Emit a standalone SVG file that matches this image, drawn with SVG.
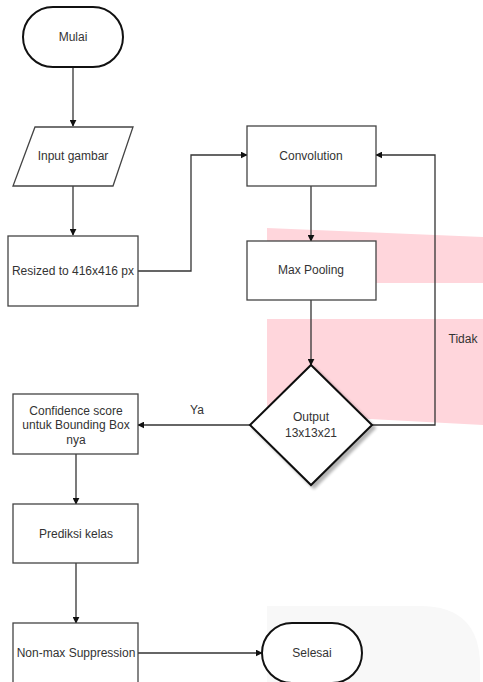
<svg xmlns="http://www.w3.org/2000/svg" width="483" height="682" viewBox="0 0 483 682">
<style>
.box{fill:#fff;stroke:#444;stroke-width:1.3}
.term{fill:#fff;stroke:#111;stroke-width:2}
.t{font-family:"Liberation Sans",Arial,sans-serif;font-size:12px;fill:#333;text-anchor:middle;dominant-baseline:central}
.c{fill:none;stroke:#333;stroke-width:1.3}
</style>
<defs>
<marker id="ah" viewBox="0 0 10 10" refX="9" refY="5" markerWidth="7" markerHeight="7" orient="auto" markerUnits="userSpaceOnUse">
<path d="M0,0 L10,5 L0,10 Z" fill="#111"/>
</marker>
<filter id="sh" x="-20%" y="-20%" width="150%" height="150%">
<feGaussianBlur in="SourceAlpha" stdDeviation="1.5"/>
<feOffset dx="3" dy="3"/>
<feComponentTransfer><feFuncA type="linear" slope="0.3"/></feComponentTransfer>
<feMerge><feMergeNode/><feMergeNode in="SourceGraphic"/></feMerge>
</filter>
</defs>
<rect width="483" height="682" fill="#fff"/>
<g id="background">
<path d="M267,228 L483,237 L483,283 L267,283 Z" fill="#ffd6dc"/>
<path d="M267,319 L483,319 L483,425 L370,419 L267,413 Z" fill="#ffd6dc"/>
<path d="M267,606 L420,606 Q480,606 480,666 L480,682 L267,682 Z" fill="#f8f8f8"/>
</g>
<g id="connectors">
<path class="c" d="M73,67 L73,126" marker-end="url(#ah)"/>
<path class="c" d="M73,186 L73,235" marker-end="url(#ah)"/>
<path class="c" d="M138,271 L191,271 L191,155 L247,155" marker-end="url(#ah)"/>
<path class="c" d="M311,186 L311,241" marker-end="url(#ah)"/>
<path class="c" d="M311,300 L311,365" marker-end="url(#ah)"/>
<path class="c" d="M372,425 L435,425 L435,155 L376,155" marker-end="url(#ah)"/>
<path class="c" d="M250,425 L138,425" marker-end="url(#ah)"/>
<path class="c" d="M76,454 L76,504" marker-end="url(#ah)"/>
<path class="c" d="M76,563 L76,623" marker-end="url(#ah)"/>
<path class="c" d="M138,653 L262,653" marker-end="url(#ah)"/>
<text class="t" x="197" y="410">Ya</text>
<text class="t" x="463" y="339">Tidak</text>
</g>
<g id="mulai">
<rect class="term" x="23" y="7" width="100" height="60" rx="30" ry="30"/>
<text class="t" x="73" y="37">Mulai</text>
</g>
<g id="input">
<path class="box" d="M35,127 L133,127 L113,186 L13,186 Z"/>
<text class="t" x="73" y="156">Input gambar</text>
</g>
<g id="resized">
<rect class="box" x="8" y="236" width="130" height="70"/>
<text class="t" x="73" y="271">Resized to 416x416 px</text>
</g>
<g id="convolution">
<rect class="box" x="247" y="126" width="129" height="60"/>
<text class="t" x="311" y="156">Convolution</text>
</g>
<g id="maxpooling">
<rect class="box" x="247" y="241" width="129" height="59"/>
<text class="t" x="311" y="270">Max Pooling</text>
</g>
<g id="output">
<path d="M311,365 L372,425 L311,485 L250,425 Z" fill="#fff" stroke="#111" stroke-width="2" filter="url(#sh)"/>
<text class="t" x="311" y="417">Output</text>
<text class="t" x="311" y="433">13x13x21</text>
</g>
<g id="confidence">
<rect class="box" x="13" y="394" width="125" height="60"/>
<text class="t" x="76" y="411">Confidence score</text>
<text class="t" x="76" y="425">untuk Bounding Box</text>
<text class="t" x="76" y="440">nya</text>
</g>
<g id="prediksi">
<rect class="box" x="13" y="504" width="125" height="59"/>
<text class="t" x="76" y="534">Prediksi kelas</text>
</g>
<g id="nonmax">
<rect class="box" x="13" y="623" width="125" height="60"/>
<text class="t" x="76" y="653">Non-max Suppression</text>
</g>
<g id="selesai">
<rect class="term" x="262" y="623" width="100" height="60" rx="30" ry="30"/>
<text class="t" x="312" y="653">Selesai</text>
</g>
</svg>
